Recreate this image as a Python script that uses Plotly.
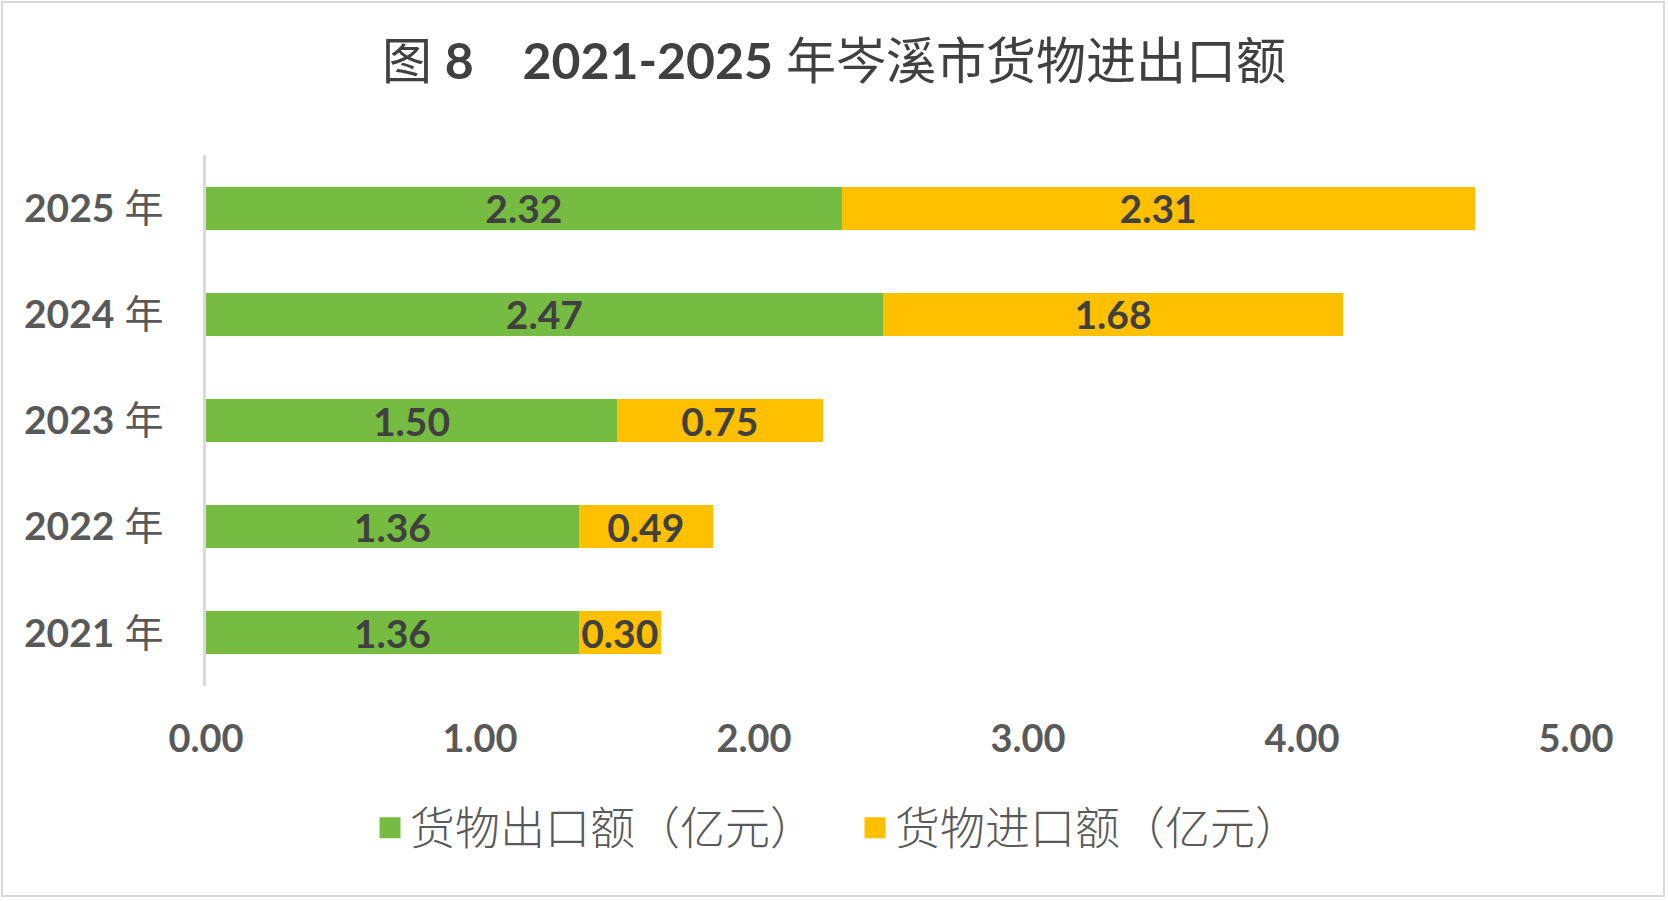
import plotly.graph_objects as go

# ---- data ----
years = ["2021", "2022", "2023", "2024", "2025"]
exports = [1.36, 1.36, 1.50, 2.47, 2.32]
imports = [0.30, 0.49, 0.75, 1.68, 2.31]
x_tick_vals = [0, 1, 2, 3, 4, 5]
x_tick_text = ["0.00", "1.00", "2.00", "3.00", "4.00", "5.00"]
series_names = ["货物出口额（亿元）", "货物进口额（亿元）"]
series_colors = ["#76BB42", "#FFC000"]
title_main = "年岑溪市货物进出口额"

W, H = 1668, 901
ML, MR, MT, MB = 206, 92, 155, 215

cats = [y + " 年" for y in years]
cat_text = ["<b>" + y + "</b> 年" for y in years]

LAT = "Lato, 'Noto Sans CJK SC', sans-serif"
CJK = "'Noto Sans CJK SC', sans-serif"

fig = go.Figure()
for vals, name, col in zip([exports, imports], series_names, series_colors):
    fig.add_trace(go.Bar(
        y=cats, x=vals, orientation="h", name=name,
        marker=dict(color=col, line=dict(width=0)),
        text=[f"{v:.2f}" for v in vals],
        textposition="inside", insidetextanchor="middle",
        constraintext="none",
        textfont=dict(family=LAT, size=39, color="#404040", weight="bold"),
        showlegend=False, hoverinfo="skip",
    ))
    # legend proxy with larger square symbol
    fig.add_trace(go.Scatter(
        x=[None], y=[None], mode="markers", name=name,
        marker=dict(symbol="square", size=16, color=col,
                    line=dict(color=col, width=8)),
        showlegend=True, hoverinfo="skip",
    ))

pw = W - ML - MR
ph = H - MT - MB
fig.add_shape(type="rect", xref="paper", yref="paper",
              x0=(2 - ML) / pw, x1=(W - 4 - ML) / pw,
              y0=(5 - MB) / ph, y1=(H - 2 - MB) / ph,
              line=dict(color="#D9D9D9", width=2), fillcolor="rgba(0,0,0,0)",
              layer="below")

fig.update_layout(
    width=W, height=H,
    margin=dict(l=ML, r=MR, t=MT, b=MB),
    paper_bgcolor="white", plot_bgcolor="rgba(0,0,0,0)",
    barmode="stack", bargap=0.595,
    title=dict(
        text="图 <b>8    2021-2025</b> " + title_main,
        x=0.5, xanchor="center", xref="container",
        y=1 - 61 / H, yanchor="middle", yref="container",
        font=dict(family=LAT, size=50, color="#404040"),
    ),
    xaxis=dict(
        range=[0, 5], tickvals=x_tick_vals, ticktext=x_tick_text,
        showgrid=False, zeroline=False, showline=False, ticks="",
        tickfont=dict(family=LAT, size=38, color="#595959", weight="bold"),
        ticklabelstandoff=27, fixedrange=True,
    ),
    yaxis=dict(
        categoryorder="array", categoryarray=cats,
        tickvals=cats, ticktext=cat_text,
        showgrid=False, zeroline=False,
        showline=True, linecolor="#D9D9D9", linewidth=2.5,
        ticks="", ticklabelstandoff=32,
        tickfont=dict(family=LAT, size=39, color="#595959"),
        fixedrange=True,
    ),
    legend=dict(
        orientation="h", xref="container", yref="container",
        x=0.5 + 21 / W, xanchor="center", y=1 - 828 / H, yanchor="middle",
        font=dict(family=CJK, size=45, color="#595959", weight=300),
        itemsizing="trace", tracegroupgap=0, traceorder="normal",
        entrywidth=440, bgcolor="rgba(0,0,0,0)",
    ),
)

fig.write_html("out.html", config={"displayModeBar": False},
               post_script="document.body.style.margin='0';")
